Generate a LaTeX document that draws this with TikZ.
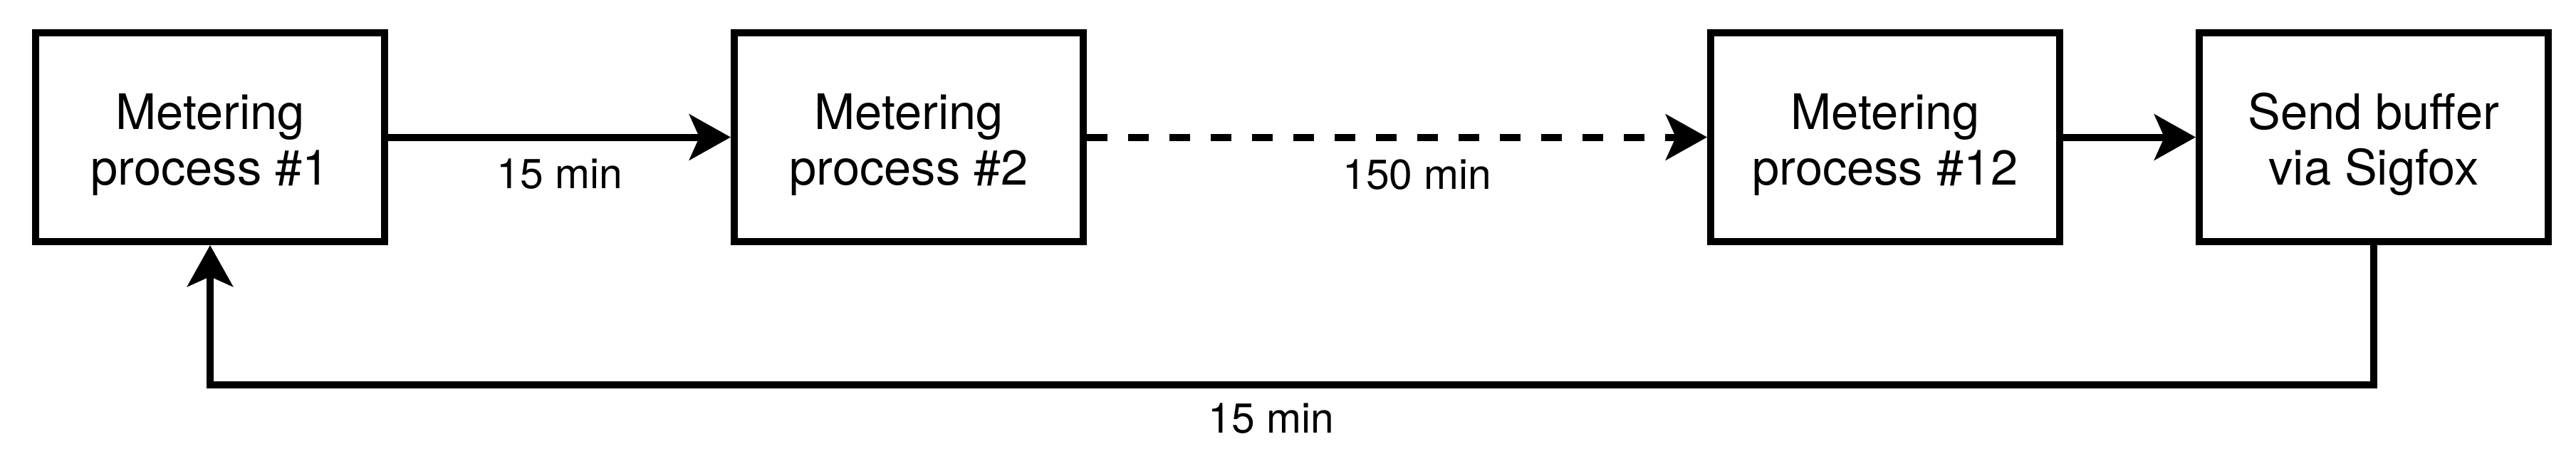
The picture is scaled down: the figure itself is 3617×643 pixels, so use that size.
\documentclass[tikz,border=0pt]{standalone}
\usepackage{fontspec}
\setmainfont{TeX Gyre Heros}
\usetikzlibrary{arrows.meta}
\tikzset{
  procbox/.style={draw=black, line width=10pt, fill=white, rectangle,
    minimum width=490pt, minimum height=293pt, inner sep=0pt,
    align=center, font=\fontsize{68.6pt}{77.5pt}\selectfont},
  conn/.style={draw=black, line width=10pt,
    -{Stealth[length=58pt, width=64pt, inset=14pt]}},
  dashconn/.style={conn, dash pattern=on 29pt off 29pt},
  lbl/.style={anchor=base, inner sep=0pt, font=\fontsize{58.8pt}{70pt}\selectfont},
}
\newcommand{\topstrut}{\rule{0pt}{71.5pt}}
\newcommand{\botstrut}{\rule[-16pt]{0pt}{16pt}}
\begin{document}
\begin{tikzpicture}[x=1pt, y=-1pt]
\useasboundingbox (0,0) rectangle (3617,643);
\node[procbox] (m1) at (295,192.5) {\topstrut Metering\\process \#1\botstrut};
\node[procbox] (m2) at (1276,192.5) {\topstrut Metering\\process \#2\botstrut};
\node[procbox] (m12) at (2647,192.5) {\topstrut Metering\\process \#12\botstrut};
\node[procbox] (send) at (3333,192.5) {\topstrut Send buffer\\via Sigfox\botstrut};

\draw[conn] (m1) -- (m2);
\draw[dashconn] (m2) -- (m12);
\draw[conn] (m12) -- (send);
\draw[conn] (send.south) -- ++(0,196) -| (m1.south);

\node[lbl] (l1) at (786,264) {15 min};
\node[lbl] (l2) at (1990,265) {150 min};
\node[lbl] (l3) at (1785,607) {15 min};
\end{tikzpicture}
\end{document}
